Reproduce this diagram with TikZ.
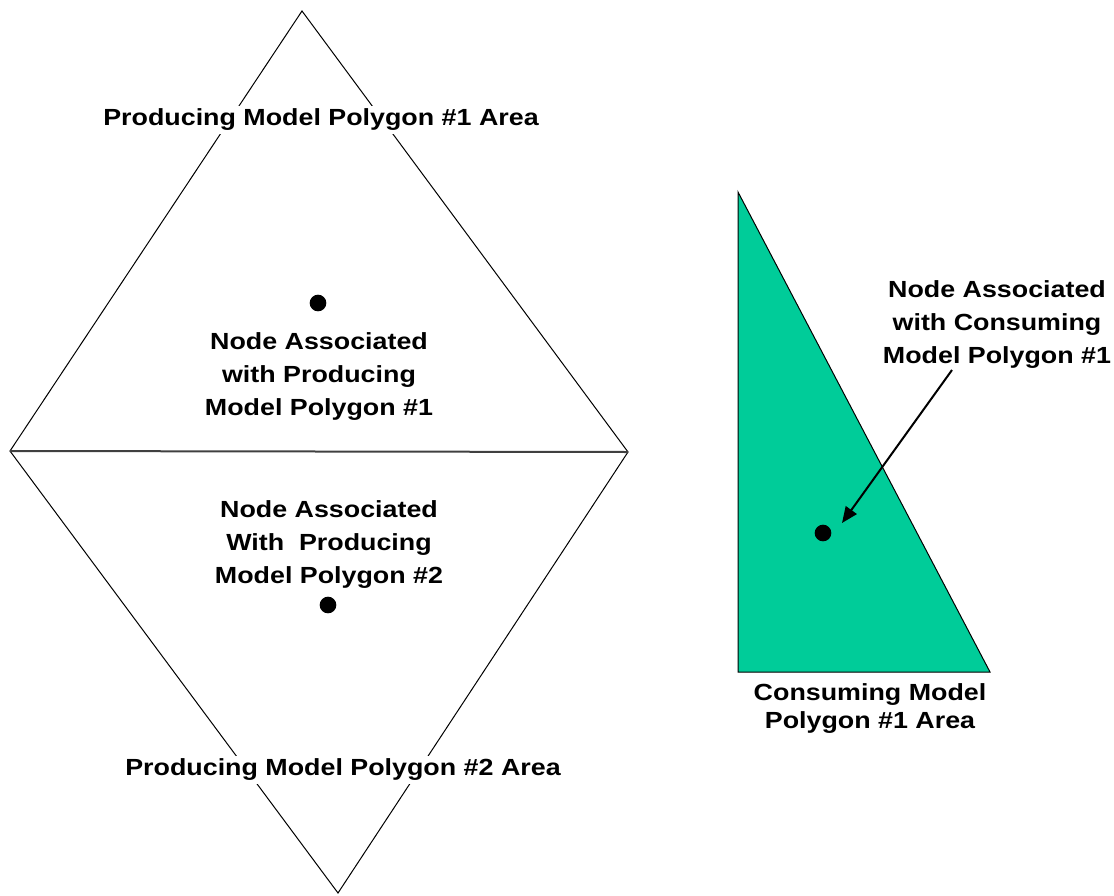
\documentclass[tikz,border=0pt]{standalone}
\usepackage{fontspec}
\newfontfamily\labelfont{Liberation Sans}[FakeStretch=1.15]
\usetikzlibrary{arrows.meta}
\definecolor{consumegreen}{RGB}{0,204,153}

\begin{document}
\begin{tikzpicture}[x=0.75pt,y=-0.75pt,
    labelstyle/.style={align=center,inner sep=0pt,
        font=\labelfont\bfseries\fontsize{17.5}{24.75}\selectfont},
    arealabel/.style={labelstyle,fill=white,inner sep=2pt},
    dotstyle/.style={circle,fill=black,minimum size=12.5pt,inner sep=0pt}]
    \useasboundingbox (0,0) rectangle (1114,896);
    % producing model polygons
    \coordinate (ptop) at (302,11);
    \coordinate (pleft) at (10,451);
    \coordinate (pright) at (628,452);
    \coordinate (pbottom) at (338,893);
    \draw[line width=0.75pt] (ptop) -- (pright) -- (pbottom) -- (pleft) -- cycle;
    \draw[line width=1.5pt, black!75] (pleft) -- (pright);
    % consuming model polygon
    \coordinate (ctop) at (738,192);
    \coordinate (cleft) at (738,672);
    \coordinate (cright) at (990,672);
    \filldraw[fill=consumegreen, line width=0.75pt] (ctop) -- (cright) -- (cleft) -- cycle;
    % nodes
    \foreach \name/\x/\y in {pdot1/318/303, pdot2/328/605, cdot/823/533}
        \node[dotstyle] (\name) at (\x,\y) {};
    % labels
    \node[arealabel] (parea1) at (321,120) {Producing Model Polygon \#1 Area};
    \node[arealabel] (parea2) at (343,770) {Producing Model Polygon \#2 Area};
    \node[labelstyle] (pnode1) at (319,377) {Node Associated\\with Producing\\Model Polygon \#1};
    \node[labelstyle] (pnode2) at (329,545) {Node Associated\\With\ \ Producing\\Model Polygon \#2};
    \node[labelstyle] (cnode) at (997,325) {Node Associated\\with Consuming\\Model Polygon \#1};
    \node[labelstyle, font=\labelfont\bfseries\fontsize{17.5}{21}\selectfont] (carea) at (870,709) {Consuming Model\\Polygon \#1 Area};
    % arrow to consuming node
    \coordinate (arrowstart) at (952,370);
    \coordinate (arrowtip) at (842,523);
    \draw[line width=1.5pt, -{Triangle[length=12pt,width=10pt]}] (arrowstart) -- (arrowtip);
\end{tikzpicture}
\end{document}
